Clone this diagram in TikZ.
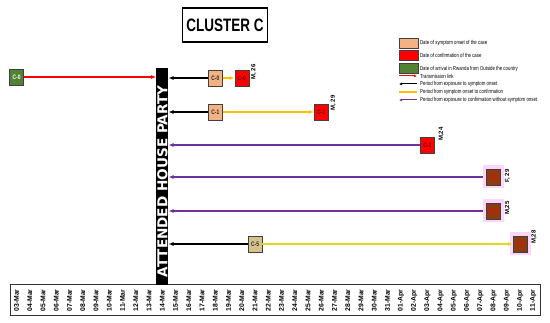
\documentclass[tikz,border=0pt]{standalone}
\usepackage{fontspec}
\setmainfont{Liberation Sans}
\newfontfamily\narrowsans{Liberation Sans}[FakeStretch=0.75]
\newfontfamily\widesans{DejaVu Sans}
\usetikzlibrary{arrows.meta,positioning,calc,backgrounds}
\definecolor{clusterGreen}{HTML}{548235}
\definecolor{clusterSalmon}{HTML}{F4B183}
\definecolor{clusterRed}{HTML}{FF0000}
\definecolor{clusterBrown}{HTML}{8E3B10}
\definecolor{clusterTan}{HTML}{D6C28C}
\definecolor{clusterGlow}{HTML}{FFD6FB}
\definecolor{clusterOrange}{HTML}{FFC000}
\definecolor{clusterYellow}{HTML}{E2D81C}
\definecolor{clusterPurple}{HTML}{7030A0}
\newcommand\dpos[1]{16.6+13.25*(#1)}
\tikzset{
  casebox/.style={
    rectangle,
    draw=black!75,
    line width=0.6pt,
    minimum width=14pt,
    minimum height=16pt,
    inner sep=0pt,
    font=\narrowsans\bfseries\fontsize{6.5}{7}\selectfont
  },
  onsetbox/.style={casebox, fill=clusterSalmon, text=black!85},
  confirmbox/.style={casebox, fill=clusterRed, text=black!60!red},
  arrivalbox/.style={casebox, fill=clusterGreen, text=white},
  tanbox/.style={casebox, fill=clusterTan, text=black!85},
  latebox/.style={
    casebox,
    fill=clusterBrown,
    text=clusterRed,
    preaction={draw=clusterGlow, line width=7pt}
  },
  agelabel/.style={
    rotate=90,
    inner sep=0pt,
    font=\bfseries\fontsize{6}{7}\selectfont
  },
  datelabel/.style={
    rotate=90,
    inner sep=0pt,
    font=\bfseries\fontsize{6.8}{7}\selectfont
  },
  titlebox/.style={
    rectangle,
    draw=black,
    line width=1.3pt,
    minimum width=85pt,
    minimum height=34pt,
    font=\narrowsans\bfseries\fontsize{18}{20}\selectfont
  },
  partybar/.style={
    rectangle,
    fill=black,
    minimum width=12pt,
    minimum height=217pt,
    inner sep=0pt
  },
  partytext/.style={
    rotate=90,
    text=white,
    inner sep=0pt,
    font=\widesans\bfseries\fontsize{13.6}{14}\selectfont
  },
  keybox/.style={
    rectangle,
    draw=black!75,
    line width=0.8pt,
    minimum width=19pt,
    minimum height=10pt,
    inner sep=0pt
  },
  keytext/.style={
    anchor=west,
    inner sep=0pt,
    font=\narrowsans\fontsize{5.8}{6}\selectfont
  },
  link/.style={
    -{Latex[length=5pt,width=4pt]},
    line width=1.3pt,
    draw=clusterRed
  },
  exposure/.style={link, draw=black},
  onsetlink/.style={link, draw=clusterOrange},
  lateonset/.style={link, draw=clusterYellow},
  silentlink/.style={link, draw=clusterPurple},
  keyline/.style={line width=1pt, -{Latex[length=3pt,width=3pt]}}
}

\begin{document}
\begin{tikzpicture}[x=1pt,y=-1pt]
  \useasboundingbox (0,0) rectangle (550,323);

  \node[titlebox] (title) at (225,25) {CLUSTER C};

  % time axis
  \node[draw=black!80,line width=1pt,minimum width=530pt,minimum height=31pt,inner sep=0pt] (axis) at (275,300.5) {};
  \foreach \d in {3,...,31}
    \node[datelabel] (mar\d) at ({\dpos{\d-3}},300.5) {\ifnum\d<10 0\fi\d-Mar};
  \foreach \d in {1,...,11}
    \node[datelabel] (apr\d) at ({\dpos{\d+28}},300.5) {\ifnum\d<10 0\fi\d-Apr};

  \node[partybar] (party) at ({\dpos{11}},176.5) {};
  \node[partytext] (partylbl) at ($(party.center)+(0,5)$) {ATTENDED HOUSE PARTY};

  % cases
  \node[arrivalbox] (arr0) at ({\dpos{0}},77) {C-0};
  \node[onsetbox] (on0) at ({\dpos{15}},78) {C-0};
  \node[confirmbox] (cf0) at ({\dpos{17}},78) {C-0};
  \node[onsetbox] (on1) at ({\dpos{15}},112) {C-1};
  \node[confirmbox] (cf1) at ({\dpos{23}},112) {C-1};
  \node[confirmbox] (cf2) at ({\dpos{31}},145) {C-2};
  \node[latebox] (cf3) at ({\dpos{36}},177) {C-3};
  \node[latebox] (cf4) at ({\dpos{36}},211) {C-4};
  \node[tanbox] (on5) at ({\dpos{18}},244) {C-5};
  \node[latebox] (cf5) at ({\dpos{38}},244) {C-5};

  \node[agelabel] (age0) at ($(cf0)+(12,-6)$) {M, 26};
  \node[agelabel] (age1) at ($(cf1)+(12,-9)$) {M, 29};
  \node[agelabel] (age2) at ($(cf2)+(14,-11)$) {M,24};
  \node[agelabel] (age3) at ($(cf3)+(14,-1)$) {F, 29};
  \node[agelabel] (age4) at ($(cf4)+(14,-3)$) {M,25};
  \node[agelabel] (age5) at ($(cf5)+(14,-7)$) {M,28};

  \draw[link] (arr0) -- (arr0 -| party.west);
  \draw[exposure] (on0) -- (on0 -| party.east);
  \draw[onsetlink] (on0) -- (cf0);
  \draw[exposure] (on1) -- (on1 -| party.east);
  \draw[onsetlink] (on1) -- (cf1);
  \draw[exposure] (on5) -- (on5 -| party.east);
  \draw[lateonset] (on5) -- (cf5);
  \begin{scope}[on background layer]
    \draw[silentlink] (cf2) -- (cf2 -| party.east);
    \draw[silentlink] (cf3) -- (cf3 -| party.east);
    \draw[silentlink] (cf4) -- (cf4 -| party.east);
  \end{scope}

  % key
  \node[keybox,fill=clusterSalmon] (keyonset) at (408.5,43) {};
  \node[keybox,fill=clusterRed,below=2pt of keyonset] (keyconfirm) {};
  \node[keybox,fill=clusterGreen,below=2pt of keyconfirm] (keyarrival) {};
  \node[keytext,right=1.5pt of keyonset] (txtonset) {Date of symptom onset of the case};
  \node[keytext,right=1.5pt of keyconfirm] (txtconfirm) {Date of confirmation of the case};
  \node[keytext,right=1.5pt of keyarrival] (txtarrival) {Date of arrival in Rwanda from Outside the country};
  \coordinate (keyA1) at (399,76);  \coordinate (keyA2) at (417,76);
  \coordinate (keyB1) at (399,84);  \coordinate (keyB2) at (417,84);
  \coordinate (keyC1) at (399,92);  \coordinate (keyC2) at (417,92);
  \coordinate (keyD1) at (399,100); \coordinate (keyD2) at (417,100);
  \draw[keyline,draw=clusterRed] (keyA1) -- (keyA2);
  \draw[keyline,draw=black] (keyB2) -- (keyB1);
  \draw[line width=1.2pt,draw=clusterOrange] (keyC1) -- (keyC2);
  \draw[keyline,draw=clusterPurple] (keyD2) -- (keyD1);
  \node[keytext] (txtlink) at (420,76) {Transmission link};
  \node[keytext] (txtexposure) at (420,84) {Period from exposure to symptom onset};
  \node[keytext] (txtonsetlink) at (420,92) {Period from symptom onset to confirmation};
  \node[keytext] (txtsilent) at (420,100) {Period from exposure to confirmation without symptom onset};
\end{tikzpicture}
\end{document}
